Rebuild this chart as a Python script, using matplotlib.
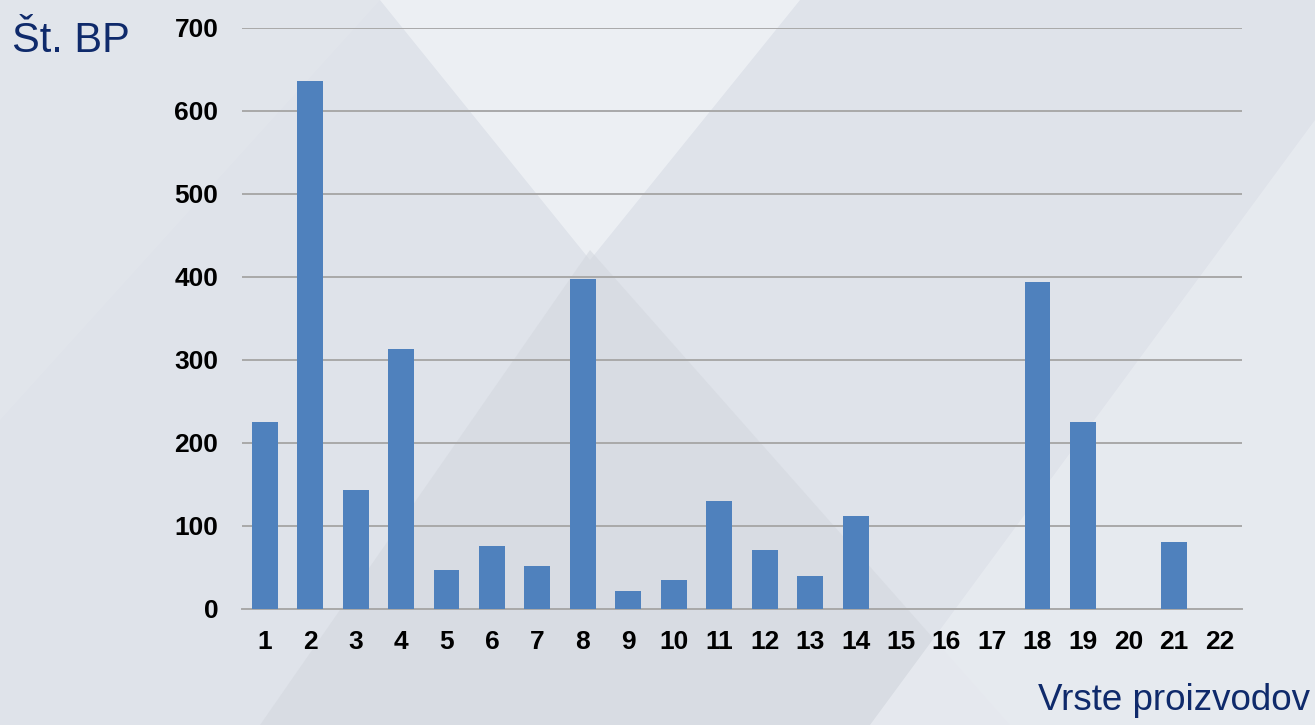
import matplotlib.pyplot as plt
import numpy as np
from matplotlib.patches import Polygon

categories = [str(i) for i in range(1, 23)]
values = [225, 636, 143, 313, 47, 76, 52, 398, 22, 35, 130, 71, 40, 112,
          0, 0, 0, 394, 225, 0, 81, 0]
yticks = [0, 100, 200, 300, 400, 500, 600, 700]

plt.rcParams['font.family'] = ['Liberation Sans', 'DejaVu Sans']

fig = plt.figure(figsize=(13.15, 7.25), dpi=100)
fig.patch.set_facecolor('#dfe3ea')

# background decoration in its own axes, behind the chart
W, H = 1315, 725
bg = fig.add_axes([0, 0, 1, 1], zorder=-10)
bg.set_xlim(0, W)
bg.set_ylim(H, 0)
bg.axis('off')
shapes = [
    ([(380, 0), (800, 0), (590, 260)], '#eef1f5', 0.9),
    ([(590, 250), (260, 725), (1010, 725)], '#d4d8df', 0.6),
    ([(1315, 120), (1315, 725), (870, 725)], '#e9ecf1', 0.8),
    ([(0, 0), (380, 0), (0, 420)], '#e4e7ed', 0.6),
]
for pts, col, a in shapes:
    bg.add_patch(Polygon(pts, closed=True, facecolor=col, edgecolor='none', alpha=a))

ax = fig.add_axes([0.184, 0.16, 0.7605, 0.8014])
ax.set_facecolor('none')

x = np.arange(len(categories))
ax.bar(x, values, width=0.57, color='#4f81bd', zorder=3)

ax.set_xlim(-0.5, len(categories) - 0.5)
ax.set_ylim(0, 700)
ax.set_yticks(yticks)
ax.set_xticks(x)
ax.set_xticklabels(categories)
ax.yaxis.grid(True, color='#a9a9a9', linewidth=1.4, zorder=1)
ax.set_axisbelow(True)

for s in ['top', 'right', 'left']:
    ax.spines[s].set_visible(False)
ax.spines['bottom'].set_color('#a9a9a9')
ax.spines['bottom'].set_linewidth(1.4)

ax.tick_params(axis='both', length=0, labelsize=19)
ax.tick_params(axis='y', pad=17)
ax.tick_params(axis='x', pad=15)
for lbl in ax.get_xticklabels() + ax.get_yticklabels():
    lbl.set_fontweight('bold')
    lbl.set_color('black')

fig.text(12 / W, 1 - 41 / H, 'Št. BP', fontsize=30, color='#0f2a6b',
         va='center', ha='left')
fig.text(1310 / W, 1 - 700 / H, 'Vrste proizvodov', fontsize=26.5,
         color='#0f2a6b', va='center', ha='right')

fig.savefig('out.png', dpi=100, facecolor=fig.get_facecolor())
